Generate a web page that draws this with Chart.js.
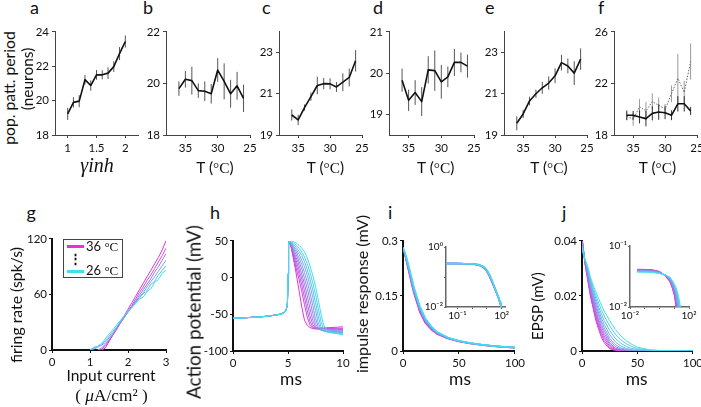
<!DOCTYPE html>
<html><head><meta charset="utf-8"><title>Temperature dependence of pattern period</title>
<script src="https://cdn.jsdelivr.net/npm/chart.js@4.4.1/dist/chart.umd.min.js"></script>
<style>
html,body{margin:0;padding:0;background:#fff;}
#wrap{position:relative;width:701px;height:407px;overflow:hidden;background:#fff;color:#111;font-family:Lato,"Open Sans",sans-serif;}
#wrap canvas{position:absolute;}
.t{position:absolute;white-space:nowrap;line-height:1;}
.sf{font-family:"Liberation Serif","DejaVu Serif",serif;}
</style></head><body><div id="wrap"></div>
<script>
// ================= DATA =================
// panel a
const gammaInh=[1.0,1.1,1.2,1.3,1.4,1.5,1.6,1.7,1.8,1.9,2.0];
const periodA=[19.23,19.9,19.97,21.22,20.88,21.5,21.5,21.6,21.98,22.74,23.44];
const errA=[0.35,0.30,0.35,0.28,0.30,0.28,0.26,0.34,0.31,0.38,0.35];
// panels b-f (temperature in deg C)
const tempsC=[36,35,34,33,32,31,30,29,28,27,26];
const periodB=[19.8,20.16,20.11,19.72,19.7,19.6,20.52,20.08,19.6,19.91,19.42];
const errB=[0.28,0.32,0.54,0.28,0.38,0.38,0.46,0.70,0.54,0.54,0.53];
const periodC=[19.97,19.73,20.33,20.86,21.4,21.49,21.48,21.33,21.56,21.79,22.6];
const errC=[0.27,0.25,0.15,0.2,0.42,0.27,0.27,0.24,0.43,0.43,0.52];
const periodD=[19.83,19.34,19.53,19.31,20.08,20.06,19.79,19.91,20.26,20.26,20.17];
const errD=[0.28,0.26,0.30,0.35,0.33,0.49,0.41,0.25,0.33,0.24,0.28];
const periodE=[19.57,20.02,20.65,21.0,21.29,21.52,21.87,22.51,22.35,22.0,22.68];
const errE=[0.34,0.2,0.21,0.2,0.29,0.32,0.36,0.38,0.36,0.58,0.52];
const periodF=[19.53,19.53,19.4,19.27,19.68,19.78,19.73,19.53,20.42,20.42,19.86];
const errF=[0.38,0.34,0.5,0.6,0.55,0.6,0.5,0.38,0.6,0.6,0.32];
const periodFdot=[19.45,19.22,20.2,19.86,20.6,20.3,20.0,21.2,22.4,21.3,23.7];
const errFdot=[0.3,0.5,0.6,0.7,0.64,0.6,0.4,0.64,1.9,0.9,1.4];
// tick values
const ticksAx=[1,1.5,2], ticksAy=[18,20,22,24];
const ticksT=[35,30,25];
const ticksBy=[18,20,22], ticksCy=[19,21,23], ticksDy=[19,20,21], ticksEy=[19,21,23], ticksFy=[18,22,26];
// panel g : f-I curves
const currentI=[0.9,1.0,1.1,1.2,1.3,1.4,1.5,1.6,1.7,1.8,1.9,2.0,2.1,2.2,2.3,2.4,2.5,2.6,2.7,2.8,2.9,3.0];
const rate36=[null,null,null,null,0,2,9,16,23,30,37,44,51,58,65,72,79,86,93,100,108,118];
const rate34=[null,null,null,0,1,4,10,16,22,29,35,42,48,55,62,68,75,81,88,95,102,110];
const rate32=[null,null,null,0,2,6,11,17,23,29,35,41,47,53,59,65,71,77,84,90,97,104];
const rate30=[null,0,1,3,5,8,13,18,24,30,35,41,46,52,57,62,68,74,79,85,91,97];
const rate28=[null,0,2,4,6,10,15,20,25,31,36,41,46,51,56,61,64,71,74,81,86,91];
const rate26=[null,0,3,4,7,12,17,22,27,32,37,42,46,50,55,57,63,66,73,76,83,86];
const gTemps=[36,34,32,30,28,26];
// panel h : action potentials
const apRiseT=[0,1,2,3,3.5,4,4.4,4.7,4.85,4.95,5.0,5.05,5.1];
const apRiseV=[-55.4,-54.7,-54,-52.8,-51.8,-50.8,-49.5,-47,-43,-35,5,46,50];
const apFallT=[5.3,5.5,5.75,6.0,6.25,6.5,6.75,7.0,7.25,7.5,7.75,8.0,8.25,8.5,9.0,9.5,10];
const ap36=[40,25,5,-17,-40,-58,-65,-68,-69.5,-70,-70,-69.5,-69,-68.5,-68,-67.5,-67];
const ap35=[41,28,12,-2,-19,-37,-54,-65,-68.5,-69,-69,-68.5,-68.5,-68.5,-69,-69,-69];
const ap34=[42,31,18,5,-10,-27,-45,-60,-67,-69,-69.5,-69.5,-69.5,-69.5,-69.5,-70,-70];
const ap33=[43,34,23,11,-2,-18,-35,-52,-64,-68.5,-70,-70,-70,-70,-70.5,-70.5,-71];
const ap32=[44,36,27,17,5,-9,-25,-42,-58,-67,-70,-71,-71,-71,-71.5,-71.5,-72];
const ap31=[45,39,31,22,12,-1,-15,-31,-49,-63,-69.5,-71.5,-72,-72,-72.5,-72.5,-73];
const ap30=[46,41,35,27,18,7,-6,-21,-38,-56,-67,-71.5,-72.5,-73,-73.5,-73.5,-74];
const ap29=[47,43,38,32,24,15,3,-11,-27,-45,-62,-70.5,-73,-73.5,-74.5,-74.5,-75];
const ap28=[48,45,41,36,30,22,11,-2,-17,-34,-53,-67,-72.5,-74,-75,-75.5,-76];
const ap27=[49,47,44,40,35,28,19,7,-7,-23,-42,-60,-70,-73.5,-75.5,-76,-77];
const ap26=[50,49,47,44,40,35,27,16,3,-12,-30,-50,-65,-71,-74.5,-76.5,-78];
// panel i : impulse response (mV)
const tImp=[0.017,0.1,0.3,1,2,3,5,7.5,10,15,20,25,30,40,50,60,70,80,90,100,130];
const imp36=[0.28,0.28,0.278,0.271,0.258,0.245,0.219,0.185,0.155,0.106,0.076,0.059,0.047,0.034,0.026,0.0205,0.0165,0.0132,0.0108,0.009,0.006];
const imp34=[0.28,0.28,0.2785,0.272,0.2595,0.247,0.222,0.188,0.158,0.109,0.078,0.061,0.048,0.0346,0.0264,0.0208,0.0167,0.0134,0.011,0.0091,0.0061];
const imp32=[0.28,0.28,0.2785,0.273,0.261,0.25,0.225,0.192,0.162,0.113,0.081,0.063,0.0495,0.0352,0.0268,0.0211,0.017,0.0136,0.0111,0.0092,0.0062];
const imp30=[0.28,0.28,0.279,0.2735,0.2625,0.2515,0.228,0.196,0.165,0.116,0.084,0.065,0.051,0.0358,0.0272,0.0214,0.0172,0.0137,0.0112,0.0093,0.0063];
const imp28=[0.28,0.28,0.279,0.274,0.264,0.254,0.231,0.2,0.169,0.12,0.087,0.067,0.052,0.0364,0.0276,0.0217,0.0174,0.0139,0.0114,0.0094,0.0064];
const imp26=[0.28,0.28,0.279,0.275,0.266,0.256,0.234,0.203,0.172,0.123,0.089,0.068,0.053,0.037,0.028,0.022,0.0175,0.014,0.0115,0.0095,0.0065];
// panel j : EPSP (mV)
const tEpsp=[0.03,0.1,0.3,1,2.5,5,7.5,10,12.5,15,17.5,20,25,30,35,40,45,50,60,70,80,100];
const epsp36=[0.0415,0.0414,0.0409,0.0383,0.0320,0.0260,0.0200,0.0155,0.0110,0.0078,0.0050,0.0030,0.0008,0.0002,0.00005,0.00002,0.00001,0.00001,0.00001,0.00001,0.00001,0.00001];
const epsp35=[0.0411,0.0410,0.0405,0.0381,0.0323,0.0266,0.0208,0.0164,0.0120,0.0087,0.0059,0.0038,0.0012,0.00035,0.0001,0.00003,0.00001,0.00001,0.00001,0.00001,0.00001,0.00001];
const epsp34=[0.0406,0.0405,0.0401,0.0378,0.0326,0.0271,0.0215,0.0172,0.0129,0.0096,0.0068,0.0046,0.0017,0.00055,0.00015,0.00005,0.00002,0.00001,0.00001,0.00001,0.00001,0.00001];
const epsp33=[0.0402,0.0401,0.0397,0.0375,0.0328,0.0276,0.0222,0.0180,0.0138,0.0105,0.0077,0.0055,0.0023,0.0008,0.0003,0.0001,0.00003,0.00001,0.00001,0.00001,0.00001,0.00001];
const epsp32=[0.0398,0.0397,0.0393,0.0372,0.0330,0.0281,0.0229,0.0188,0.0147,0.0114,0.0086,0.0064,0.0029,0.0011,0.00045,0.00015,0.00005,0.00002,0.00001,0.00001,0.00001,0.00001];
const epsp31=[0.0394,0.0393,0.0389,0.0369,0.0331,0.0286,0.0236,0.0196,0.0158,0.0125,0.0096,0.0074,0.0037,0.0016,0.0007,0.0003,0.0001,0.00005,0.00001,0.00001,0.00001,0.00001];
const epsp30=[0.0390,0.0389,0.0385,0.0366,0.0332,0.0290,0.0242,0.0204,0.0168,0.0136,0.0108,0.0085,0.0046,0.0023,0.0011,0.0005,0.0002,0.0001,0.00002,0.00001,0.00001,0.00001];
const epsp29=[0.0386,0.0385,0.0381,0.0363,0.0333,0.0295,0.0249,0.0212,0.0179,0.0148,0.0120,0.0097,0.0059,0.0033,0.0018,0.0009,0.00045,0.0002,0.00005,0.00001,0.00001,0.00001];
const epsp28=[0.0382,0.0381,0.0377,0.0360,0.0334,0.0300,0.0256,0.0221,0.0190,0.0160,0.0134,0.0111,0.0074,0.0046,0.0028,0.0016,0.0009,0.0005,0.00015,0.00005,0.00001,0.00001];
const epsp27=[0.0378,0.0377,0.0373,0.0357,0.0335,0.0305,0.0263,0.0230,0.0202,0.0175,0.0150,0.0127,0.0091,0.0061,0.0040,0.0026,0.0016,0.0009,0.0003,0.0001,0.00005,0.00001];
const epsp26=[0.0374,0.0373,0.0370,0.0355,0.0336,0.0310,0.0270,0.0240,0.0215,0.0190,0.0167,0.0145,0.0110,0.0078,0.0055,0.0037,0.0024,0.0014,0.0005,0.0002,0.0001,0.00001];
const allTemps=[36,35,34,33,32,31,30,29,28,27,26];

// ================= HELPERS =================
const FONT='Lato,"Open Sans",sans-serif';
const wrap=document.getElementById('wrap');
const MAG=[222,52,222], CYA=[62,224,236];
function tempColor(T){const f=(36-T)/10;return 'rgb('+MAG.map((m,i)=>Math.round(m+(CYA[i]-m)*f)).join(',')+')';}
function pts(xs,ys){return xs.map((x,i)=>({x:x,y:ys[i]}));}
function errPts(xs,ys,es){const d=[];xs.forEach((x,i)=>{d.push({x:x,y:ys[i]-es[i]},{x:x,y:ys[i]+es[i]},{x:x,y:null});});return d;}
function mkCanvas(l,t,w,h){const c=document.createElement('canvas');c.width=w;c.height=h;c.style.left=l+'px';c.style.top=t+'px';c.style.width=w+'px';c.style.height=h+'px';wrap.appendChild(c);return c;}
function axis(o){
  return {
    type:o.type||'linear', min:o.min, max:o.max, reverse:!!o.reverse, position:o.position,
    afterBuildTicks:s=>{s.ticks=o.ticks.map(v=>({value:v}));},
    afterFit:s=>{if(o.position==='left')s.width=o.size;else s.height=o.size;},
    ticks:{autoSkip:false,maxRotation:0,minRotation:0,padding:o.pad,color:'#111',
      font:{family:FONT,size:o.fs},callback:(v,i)=>o.labels?o.labels[i]:String(v)},
    grid:{display:true,drawOnChartArea:false,drawTicks:true,tickLength:o.tl,tickColor:o.color,tickWidth:1},
    border:{display:true,color:o.color,width:o.bw}
  };
}
function panel(b,datasets,xo,yo){
  const W=b.w+b.pl+b.pr,H=b.h+b.pt+b.pb;
  const c=mkCanvas(b.x-b.pl,b.y-b.pt,W,H);
  xo.position='bottom';xo.size=b.pb;yo.position='left';yo.size=b.pl;
  return new Chart(c,{type:'line',data:{datasets:datasets},options:{
    responsive:false,animation:false,devicePixelRatio:1,events:[],
    layout:{padding:{left:0,right:b.pr,top:b.pt,bottom:0}},
    plugins:{legend:{display:false},tooltip:{enabled:false}},
    elements:{point:{radius:0,hoverRadius:0},line:{tension:0,borderJoinStyle:'round',fill:false}},
    scales:{x:axis(xo),y:axis(yo)}
  }});
}
const TOPAX={color:'#444',bw:1,tl:3,fs:11.5};
const BOTAX={color:'#111',bw:2,tl:3,fs:11.5};
const INAX={color:'#666',bw:1.5,tl:2,fs:10};
function topBox(x,w){return {x:x,y:30,w:w,h:105,pl:30,pr:12,pt:8,pb:26};}
function seriesSets(xs,ser){
  const ds=[];
  ser.forEach(s=>ds.push({data:pts(xs,s.ys),borderColor:s.color,borderWidth:s.w,borderDash:s.dash||[]}));
  ser.forEach(s=>ds.push({data:errPts(xs,s.ys,s.es),borderColor:s.ec,borderWidth:1,spanGaps:false}));
  return ds;
}
function topT(x,w,ymin,ymax,yt,ser){
  panel(topBox(x,w),seriesSets(tempsC,ser),
    Object.assign({min:25,max:38,reverse:true,ticks:ticksT,pad:3},TOPAX),
    Object.assign({min:ymin,max:ymax,ticks:yt,pad:3},TOPAX));
}
function txt(html,o){
  const d=document.createElement('div');d.className='t'+(o.serif?' sf':'');d.innerHTML=html;
  let fs=o.fs;d.style.fontSize=fs+'px';if(o.italic)d.style.fontStyle='italic';if(o.bold)d.style.fontWeight='bold';
  wrap.appendChild(d);
  if(o.fit){fs=fs*o.fit/d.offsetWidth;d.style.fontSize=fs.toFixed(2)+'px';}
  if(o.rot){d.style.left=o.cx+'px';d.style.top=o.cy+'px';d.style.transform='translate(-50%,-50%) rotate(-90deg)';}
  else{const asc=o.serif?0.8375:0.887;d.style.top=(o.base-asc*fs)+'px';
    if(o.cx!==undefined){d.style.left=o.cx+'px';d.style.transform='translateX(-50%)';}else d.style.left=o.x+'px';}
  return d;
}

// ================= TOP ROW =================
panel(topBox(55,83),seriesSets(gammaInh,[{ys:periodA,es:errA,color:'#111',w:1.6,ec:'#555'}]),
  Object.assign({min:0.78,max:2.22,ticks:ticksAx,pad:3},TOPAX),
  Object.assign({min:18,max:24,ticks:ticksAy,pad:3},TOPAX));
topT(166,84,18,22,ticksBy,[{ys:periodB,es:errB,color:'#111',w:1.6,ec:'#555'}]);
topT(279,83,19,24,ticksCy,[{ys:periodC,es:errC,color:'#111',w:1.6,ec:'#555'}]);
topT(389,85,18.5,21,ticksDy,[{ys:periodD,es:errD,color:'#111',w:1.6,ec:'#555'}]);
topT(504,83,19,24,ticksEy,[{ys:periodE,es:errE,color:'#111',w:1.6,ec:'#555'}]);
topT(614,83,18,26,ticksFy,[{ys:periodF,es:errF,color:'#111',w:1.6,ec:'#333'},
  {ys:periodFdot,es:errFdot,color:'#666',w:1,dash:[1.5,1.5],ec:'#999'}]);

// ================= BOTTOM ROW =================
// g
const rateSets=[rate36,rate34,rate32,rate30,rate28,rate26];
const gDs=gTemps.map((T,k)=>({data:pts(currentI,rateSets[k]),borderColor:tempColor(T),borderWidth:1})).reverse();
panel({x:52,y:238,w:114,h:112,pl:34,pr:12,pt:8,pb:22},gDs,
  Object.assign({min:0,max:3,ticks:[0,1,2,3],pad:2},BOTAX),
  Object.assign({min:0,max:120,ticks:[0,60,120],pad:2},BOTAX));
// h
const apSets=[ap36,ap35,ap34,ap33,ap32,ap31,ap30,ap29,ap28,ap27,ap26];
const hDs=allTemps.map((T,k)=>({data:pts(apRiseT,apRiseV).concat(pts(apFallT,apSets[k])),borderColor:tempColor(T),borderWidth:1})).reverse();
panel({x:233,y:240,w:110,h:111,pl:34,pr:12,pt:8,pb:22},hDs,
  Object.assign({min:0,max:10,ticks:[0,5,10],pad:2},BOTAX),
  Object.assign({min:-100,max:50,ticks:[-100,-50,0,50],pad:2},BOTAX));
// i
const impTemps=[36,34,32,30,28,26];
const impSets=[imp36,imp34,imp32,imp30,imp28,imp26];
function impDs(){return impTemps.map((T,k)=>({data:pts(tImp,impSets[k]),borderColor:tempColor(T),borderWidth:1.5})).reverse();}
panel({x:403,y:240,w:112,h:111,pl:34,pr:12,pt:8,pb:22},impDs(),
  Object.assign({min:0,max:100,ticks:[0,50,100],pad:2},BOTAX),
  Object.assign({min:0,max:0.3,ticks:[0,0.15,0.3],pad:2},BOTAX));
panel({x:446,y:246,w:59,h:61,pl:22,pr:10,pt:6,pb:16},impDs(),
  Object.assign({type:'logarithmic',min:0.017,max:170,ticks:[0.1,1,10,100],labels:['10\u207B\u00B9','','','10\u00B2'],pad:1},INAX),
  Object.assign({type:'logarithmic',min:0.01,max:1,ticks:[0.01,0.1,1],labels:['10\u207B\u00B2','','10\u2070'],pad:1},INAX));
// j
const epspSets=[epsp36,epsp35,epsp34,epsp33,epsp32,epsp31,epsp30,epsp29,epsp28,epsp27,epsp26];
function epspDs(){return allTemps.map((T,k)=>({data:pts(tEpsp,epspSets[k]),borderColor:tempColor(T),borderWidth:1})).reverse();}
panel({x:582,y:240,w:111,h:111,pl:34,pr:12,pt:8,pb:22},epspDs(),
  Object.assign({min:0,max:100,ticks:[0,50,100],pad:2},BOTAX),
  Object.assign({min:0,max:0.04,ticks:[0,0.02,0.04],pad:2},BOTAX));
panel({x:630,y:245,w:59,h:62,pl:22,pr:10,pt:6,pb:16},epspDs(),
  Object.assign({type:'logarithmic',min:0.01,max:100,ticks:[0.01,0.1,1,10,100],labels:['10\u207B\u00B2','','','','10\u00B2'],pad:1},INAX),
  Object.assign({type:'logarithmic',min:0.01,max:0.1,ticks:[0.01,0.1],labels:['10\u207B\u00B2','10\u207B\u00B9'],pad:1},INAX));

// ================= TEXT =================
[['a',30],['b',143],['c',262],['d',373],['e',485],['f',598]].forEach(p=>txt(p[0],{x:p[1],base:13.5,fs:18}));
[['g',26.5],['h',210],['i',388],['j',562]].forEach(p=>txt(p[0],{x:p[1],base:219,fs:18}));
txt('pop. patt. period',{cx:10,cy:88,fs:15,rot:true,fit:113});
txt('(neurons)',{cx:27.5,cy:79,fs:15,rot:true,fit:63});
txt('\u03B3inh',{cx:97,base:172,fs:20,serif:true,italic:true});
[215,325.5,435.7,549,657.5].forEach(cx=>txt('T (<span class="sf">\u00B0C</span>)',{cx:cx,base:174,fs:15,fit:37}));
txt('firing rate (spk/s)',{cx:15.5,cy:305,fs:15,rot:true,fit:116});
txt('Action potential (mV)',{cx:193.5,cy:312,fs:15,rot:true,fit:174});
txt('impulse response (mV)',{cx:361.7,cy:294,fs:15,rot:true,fit:158});
txt('EPSP (mV)',{cx:536.7,cy:306,fs:15,rot:true,fit:68});
txt('Input current',{cx:111,base:382,fs:15,fit:89});
txt('( <i>\u03BC</i>A/cm\u00B2 )',{cx:111.5,base:402,fs:14,serif:true,fit:73});
[291,460,636.7].forEach(cx=>txt('ms',{cx:cx,base:385,fs:16,fit:21.7}));
// legend of g
const leg=document.createElement('div');
leg.style.cssText='position:absolute;left:63px;top:239px;width:58px;height:37px;border:1px solid #444;background:#fff;';
wrap.appendChild(leg);
function bar(y,col){const d=document.createElement('div');d.style.cssText='position:absolute;left:67px;top:'+y+'px;width:17px;height:3px;background:'+col+';';wrap.appendChild(d);}
bar(245,tempColor(36));bar(269.5,tempColor(26));
txt('36 <span class="sf">\u00B0C</span>',{x:86,base:251.5,fs:13});
txt('26 <span class="sf">\u00B0C</span>',{x:86,base:276,fs:13});
txt('\u22EE',{cx:75.5,base:264,fs:13,bold:true});
</script></body></html>
